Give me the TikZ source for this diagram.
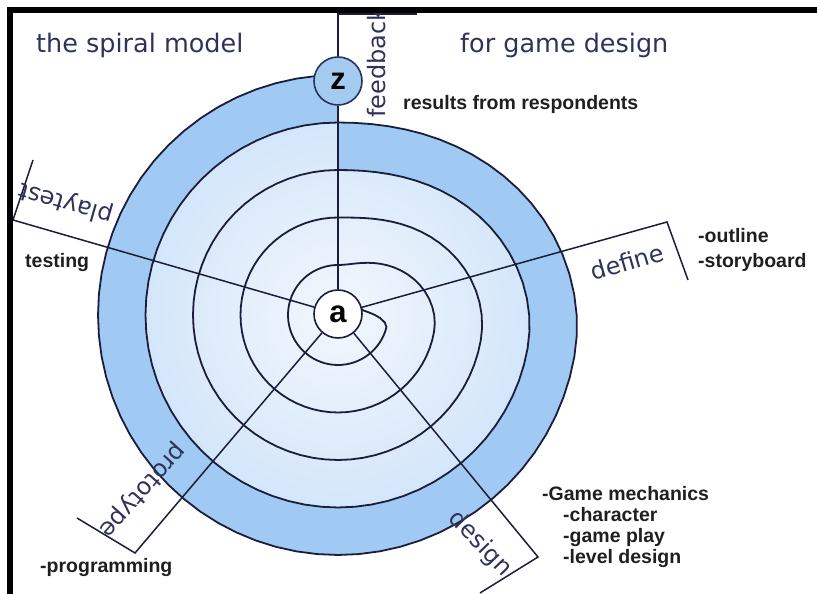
\documentclass[tikz,border=0pt]{standalone}
\usepackage{fontspec}
\setmainfont{Liberation Sans}
\newfontfamily\labelfont{DejaVu Sans}
\usetikzlibrary{calc}

\definecolor{ink}{HTML}{1B1D3A}
\definecolor{navy}{HTML}{2F335C}
\definecolor{bandblue}{HTML}{A0CAF3}
\definecolor{ringblue}{HTML}{B4D5F6}
\definecolor{coreblue}{HTML}{F3F7FD}
\definecolor{zblue}{HTML}{A3CBF0}
\definecolor{zline}{HTML}{26345F}

\tikzset{
  spiralline/.style={draw=ink, line width=1.8pt},
  spoke/.style={draw=ink, line width=1.5pt},
  hub/.style={
    circle, draw=#1, line width=1.6pt,
    minimum size=48pt, inner sep=0pt,
    font=\fontsize{31}{31}\selectfont\bfseries
  },
  hub/.default=ink,
  phaselabel/.style={
    font=\labelfont\fontsize{24}{24}\selectfont, text=navy, inner sep=0pt
  },
  titletext/.style={
    font=\labelfont\fontsize{25.5}{26}\selectfont, text=navy,
    inner sep=0pt, anchor=base west
  },
  note/.style={
    font=\fontsize{19.5}{21}\selectfont\bfseries, text=black!88,
    inner sep=0pt, align=left
  },
}

\begin{document}
\begin{tikzpicture}[x=1pt, y=1pt,
  declare function={
    turnfrac(\p)=min(1,(\p-360*floor(\p/360))/100);
    ease(\q)=\q*\q*(3-2*\q);
    outerr(\p)=50+47.5*(floor(\p/360)-1+ease(turnfrac(\p)));
    innerr(\p)=50-26*(1-ease(min(1,(\p-75)/30)));
  }]
  \useasboundingbox (0,0) rectangle (817,594);

  % bands of the spiral, outer band first
  \begin{scope}[shift={(338,279)}]
    \fill[bandblue] plot[domain=1440:1800, samples=181, variable=\ang]
      ({90-\ang}:{outerr(\ang)}) -- cycle;
    \begin{scope}
      \clip plot[domain=1080:1440, samples=181, variable=\ang]
        ({90-\ang}:{outerr(\ang)}) -- cycle;
      \shade[inner color=coreblue, outer color=ringblue] (0,0) circle (385);
    \end{scope}
    % the spiral itself, from the hub outwards
    \draw[spiralline] plot[domain=75:360, samples=60, variable=\ang]
        ({90-\ang}:{innerr(\ang)})
      -- plot[domain=360:1800, samples=289, variable=\ang]
        ({90-\ang}:{outerr(\ang)});
  \end{scope}

  \node[hub, fill=white] (a) at (338,280) {a};
  \node[hub=zline, fill=zblue] (z) at (338,513) {z};

  % bracket corners of the five phases
  \coordinate (fbc) at (338,580);
  \coordinate (fbe) at (417,580);
  \coordinate (dfc) at (667,372);
  \coordinate (dfe) at (688,314);
  \coordinate (ptc) at (13,374);
  \coordinate (pte) at (33,434);
  \coordinate (prc) at (135,41);
  \coordinate (pre) at (77,76);
  \coordinate (dsc) at (538,37);
  \coordinate (dse) at (480,1);

  \draw[spoke] (a) -- (z);
  \draw[spoke] (z) -- (fbc) -- (fbe);
  \draw[spoke] (a) -- (dfc) -- (dfe);
  \draw[spoke] (a) -- (ptc) -- (pte);
  \draw[spoke] (a) -- (prc) -- (pre);
  \draw[spoke] (a) -- (dsc) -- (dse);

  \node[phaselabel, rotate=90, anchor=base west] (fbl) at (385,476) {feedback};
  \node[phaselabel, rotate=16] (dfl) at (627,332) {define};
  \node[phaselabel, rotate=164] (ptl) at (66,391) {playtest};
  \node[phaselabel, rotate=228] (prl) at (142,104) {prototype};
  \node[phaselabel, rotate=-46] (dsl) at (480,50) {design};

  \node[titletext] (ttl) at (36,541) {the spiral model};
  \node[titletext] (ttr) at (460,541) {for game design};

  \node[note, anchor=base west] (res) at (403,484) {results from respondents};
  \node[note, anchor=base west] (tst) at (25,326) {testing};
  \node[note, anchor=base west] (prg) at (40,21) {-programming};
  \node[note, anchor=north west] (dfn) at (698,366) {-outline\\[4pt]-storyboard};
  \node[note, anchor=north west] (gmn) at (542,108)
    {-Game mechanics\\\hspace*{21pt}-character\\\hspace*{21pt}-game play\\\hspace*{21pt}-level design};

  % frame of the sheet
  \fill[black] (7,0) rectangle (13,587);
  \fill[black] (7,581) rectangle (817,587);
\end{tikzpicture}
\end{document}
